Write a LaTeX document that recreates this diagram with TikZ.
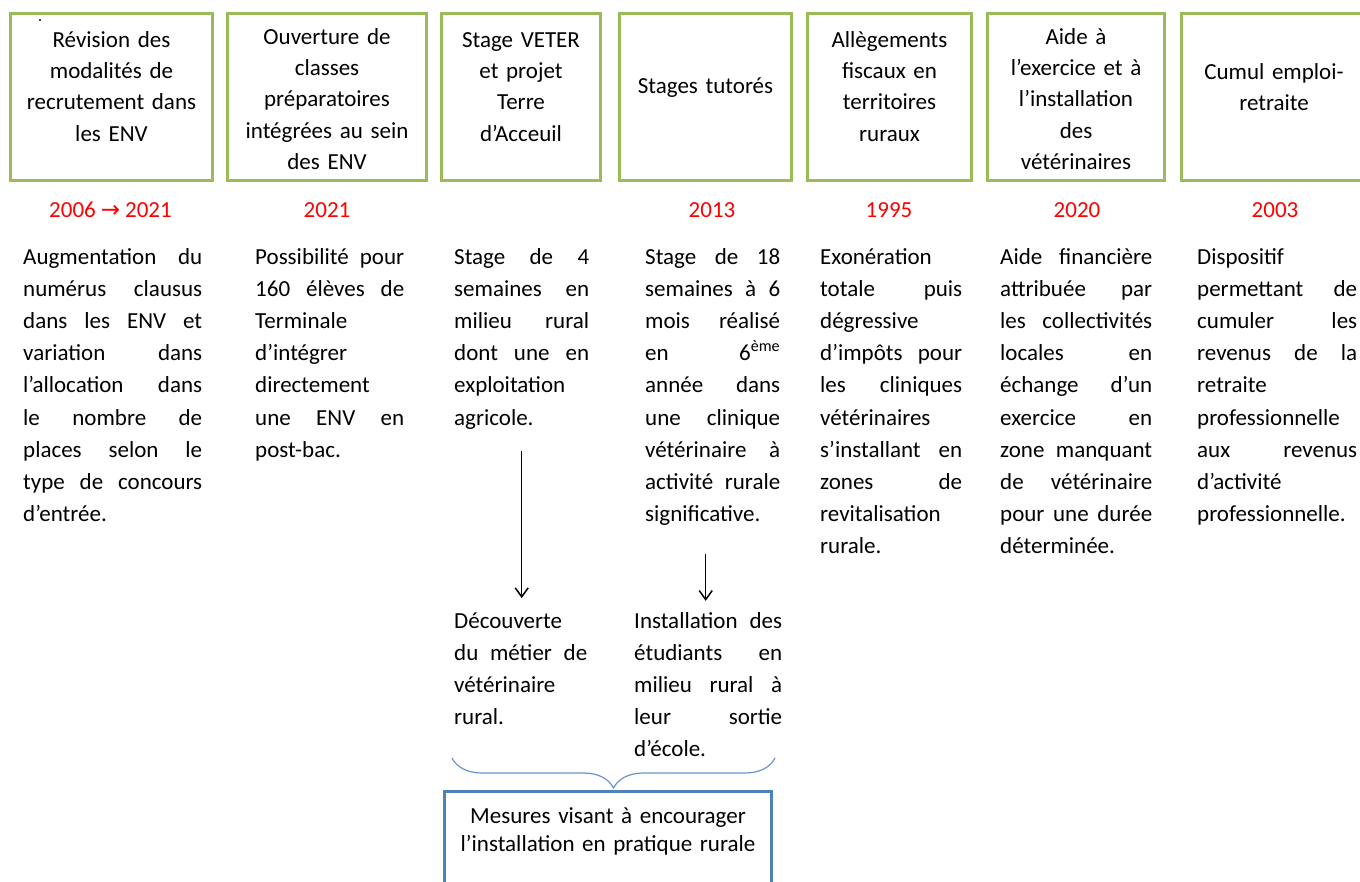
\documentclass[tikz,border=0pt]{standalone}
\usepackage{fontspec}
\setmainfont{Carlito}
\newfontfamily\arrowfont{DejaVu Sans}
\usetikzlibrary{arrows.meta,decorations.pathreplacing}

\definecolor{boxgreen}{RGB}{155,187,89}
\definecolor{yearred}{RGB}{255,0,0}
\definecolor{boxblue}{RGB}{79,129,189}

% one line of a justified column, and one left-aligned line
\newcommand\jrow[1]{\hbox to\hsize{\spaceskip=.25em plus 1fil\relax#1}}
\newcommand\lrow[1]{\hbox to\hsize{#1\hfil}}

\begin{document}
\begin{tikzpicture}[x=1pt,y=-1pt,
        measure/.style={draw=boxgreen,line width=3pt,minimum height=167pt,inner sep=0pt},
        title/.style={anchor=base,align=center,inner sep=0pt,font=\fontsize{23}{31.4}\selectfont},
        year/.style={text=yearred,inner sep=0pt,font=\fontsize{23}{28}\selectfont},
        desc/.style={anchor=base west,inner sep=0pt,font=\fontsize{23}{32.2}\selectfont},
        goal/.style={draw=boxblue,line width=3pt,minimum width=327pt,minimum height=140pt,inner sep=0pt},
        down arrow/.style={-{Straight Barb[length=9pt,width=13pt]},line width=1.5pt},
        curly/.style={draw=boxblue!85,line width=1.2pt,decorate,decoration={brace,mirror,amplitude=30pt}}]

    \useasboundingbox (0,0) rectangle (1360,881);

    % Define measure boxes
    \node[measure,minimum width=202pt] (b1) at (111.5,97) {};
    \node[measure,minimum width=199pt] (b2) at (327,97) {};
    \node[measure,minimum width=159pt] (b3) at (521,97) {};
    \node[measure,minimum width=172pt] (b4) at (705.5,97) {};
    \node[measure,minimum width=164pt] (b5) at (889.5,97) {};
    \node[measure,minimum width=177pt] (b6) at (1076,97) {};
    \node[measure,minimum width=187pt] (b7) at (1275,97) {};
    \fill (40,20) circle (1.2pt);

    % Define box titles
    \node[title,text width=196pt] (t1) at (111.5,47) {Révision des\\modalités de\\recrutement dans\\les ENV};
    \node[title,text width=193pt] (t2) at (327,44) {Ouverture de\\classes\\préparatoires\\intégrées au sein\\des ENV};
    \node[title,text width=153pt] (t3) at (521,47) {Stage VETER\\et projet\\Terre\\d’Acceuil};
    \node[title,text width=166pt] (t4) at (705.5,93) {Stages tutorés};
    \node[title,text width=158pt] (t5) at (889.5,47) {Allègements\\fiscaux en\\territoires\\ruraux};
    \node[title,text width=171pt] (t6) at (1076,44) {Aide à\\l’exercice et à\\l’installation\\des\\vétérinaires};
    \node[title,text width=181pt] (t7) at (1274,79) {Cumul emploi-\\retraite};

    % Define years
    \node[year] (y1) at (110.5,210) {2006\hspace{5pt}{\arrowfont →}\hspace{5pt}2021};
    \node[year] (y2) at (327,210) {2021};
    \node[year] (y4) at (712,210) {2013};
    \node[year] (y5) at (889,210) {1995};
    \node[year] (y6) at (1077,210) {2020};
    \node[year] (y7) at (1275,210) {2003};

    % Define descriptions
    \node[desc,text width=179pt] (d1) at (23,264) {%
        \jrow{Augmentation du}
        \jrow{numérus clausus}
        \jrow{dans les ENV et}
        \jrow{variation dans}
        \jrow{l’allocation dans}
        \jrow{le nombre de}
        \jrow{places selon le}
        \jrow{type de concours}
        \lrow{d’entrée.}};
    \node[desc,text width=149pt] (d2) at (255,264) {%
        \jrow{Possibilité pour}
        \jrow{160 élèves de}
        \lrow{Terminale}
        \lrow{d’intégrer}
        \lrow{directement}
        \jrow{une ENV en}
        \lrow{post-bac.}};
    \node[desc,text width=135pt] (d3) at (454,264) {%
        \jrow{Stage de 4}
        \jrow{semaines en}
        \jrow{milieu rural}
        \jrow{dont une en}
        \lrow{exploitation}
        \lrow{agricole.}};
    \node[desc,text width=135pt] (d4) at (645,264) {%
        \jrow{Stage de 18}
        \jrow{semaines à 6}
        \jrow{mois réalisé}
        \jrow{en 6\textsuperscript{ème}}
        \jrow{année dans}
        \jrow{une clinique}
        \jrow{vétérinaire à}
        \jrow{activité rurale}
        \lrow{significative.}};
    \node[desc,text width=142pt] (d5) at (820,264) {%
        \lrow{Exonération}
        \jrow{totale puis}
        \lrow{dégressive}
        \jrow{d’impôts pour}
        \jrow{les cliniques}
        \lrow{vétérinaires}
        \jrow{s’installant en}
        \jrow{zones de}
        \lrow{revitalisation}
        \lrow{rurale.}};
    \node[desc,text width=152pt] (d6) at (1000,264) {%
        \jrow{Aide financière}
        \jrow{attribuée par}
        \jrow{les collectivités}
        \jrow{locales en}
        \jrow{échange d’un}
        \jrow{exercice en}
        \jrow{zone manquant}
        \jrow{de vétérinaire}
        \jrow{pour une durée}
        \lrow{déterminée.}};
    \node[desc,text width=160pt] (d7) at (1197,264) {%
        \lrow{Dispositif}
        \jrow{permettant de}
        \jrow{cumuler les}
        \jrow{revenus de la}
        \lrow{retraite}
        \lrow{professionnelle}
        \jrow{aux revenus}
        \lrow{d’activité}
        \lrow{professionnelle.}};

    % Define effects
    \node[desc,text width=133pt] (e1) at (454,628) {%
        \lrow{Découverte}
        \jrow{du métier de}
        \lrow{vétérinaire}
        \lrow{rural.}};
    \node[desc,text width=148pt] (e2) at (634,628) {%
        \jrow{Installation des}
        \jrow{étudiants en}
        \jrow{milieu rural à}
        \jrow{leur sortie}
        \lrow{d’école.}};

    % Define goal
    \node[goal] (g) at (608,861.5) {};
    \node[title,text width=320pt,font=\fontsize{23}{28}\selectfont] (gt) at (608,823) {Mesures visant à encourager\\l’installation en pratique rurale};
    \coordinate (bl) at (452,758);
    \coordinate (br) at (775,758);

    % Draw edges
    \draw[down arrow,shorten <=22pt,shorten >=14pt] (d3.south) -- (d3.south |- e1.north);
    \draw[down arrow,shorten <=28pt,shorten >=11pt] ([xshift=-7pt]d4.south) -- ([xshift=-7pt]d4.south |- e2.north);
    \draw[curly] (bl) -- (br);

\end{tikzpicture}
\end{document}
